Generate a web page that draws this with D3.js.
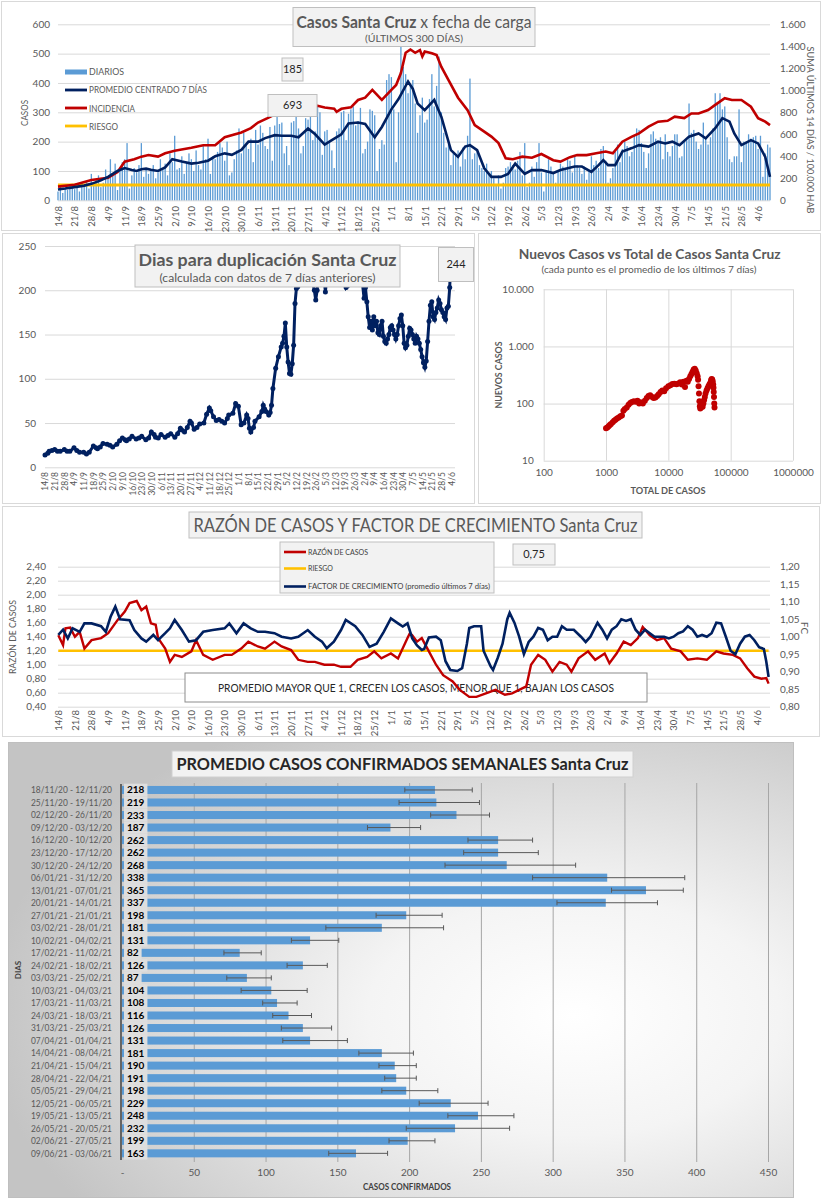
<!DOCTYPE html>
<html><head><meta charset="utf-8">
<script src="https://cdnjs.cloudflare.com/ajax/libs/d3/7.8.5/d3.min.js"></script>
<style>body{margin:0;background:#fff;}svg{display:block;}</style>
</head><body>
<svg id="chart" width="823" height="1200"></svg>
<script>
// ---------------- DATA ----------------
// Panel 1: daily cases (14/8/2020 .. 9/6/2021, 300 days)
const dailyCases = [
30,45,25,40,35,50,42,38,55,30,
60,48,65,40,90,55,70,85,45,60,
105,75,140,90,125,35,100,130,140,195,
40,85,110,95,120,195,80,110,90,100,
120,75,95,140,110,125,85,160,130,220,
105,110,150,90,130,160,140,100,170,120,
105,185,140,210,90,150,140,165,195,180,
135,200,85,95,140,170,245,160,230,190,
175,210,130,240,190,255,230,185,175,250,
135,255,285,260,265,160,185,120,265,270,
285,245,160,185,280,275,290,205,235,325,
300,155,235,240,195,170,110,235,245,300,
305,205,295,310,320,255,270,315,160,175,
200,310,305,290,100,175,205,190,410,430,
420,310,130,300,530,455,430,365,395,410,
330,230,290,350,265,275,345,430,320,390,
490,300,230,180,190,120,160,155,170,115,
180,140,220,415,140,160,175,120,110,100,
125,90,100,75,50,85,40,60,110,115,
130,120,105,135,165,85,195,45,60,115,
80,130,195,95,30,100,140,115,90,60,
100,125,115,105,140,135,95,150,120,110,
90,115,70,100,150,120,135,110,175,185,
135,60,75,110,165,190,130,175,200,185,
150,165,220,245,240,195,165,110,160,225,
235,210,200,215,140,225,165,150,185,225,
225,145,150,200,205,330,230,240,200,175,
190,265,210,190,215,245,365,330,365,310,
320,215,140,130,150,150,310,130,200,200,
225,210,215,220,175,220,80,160,190,180];
const avg7Days = [["14/8",37],["17/8",40],["21/8",45],["25/8",50],["28/8",56],["1/9",68],["4/9",80],["8/9",100],["11/9",110],["14/9",103],["16/9",100],["18/9",106],["20/9",108],["22/9",104],["25/9",100],["28/9",112],["1/10",140],["5/10",132],["9/10",125],["12/10",128],["16/10",135],["19/10",150],["23/10",160],["26/10",155],["30/10",172],["2/11",200],["6/11",200],["9/11",212],["13/11",222],["16/11",220],["20/11",220],["23/11",215],["27/11",245],["30/11",225],["4/12",190],["7/12",205],["11/12",225],["14/12",262],["18/12",265],["21/12",260],["25/12",215],["28/12",250],["1/1",310],["4/1",345],["8/1",405],["10/1",380],["12/1",330],["15/1",307],["19/1",342],["22/1",284],["26/1",171],["29/1",148],["1/2",183],["3/2",188],["6/2",171],["9/2",109],["12/2",80],["16/2",80],["19/2",90],["22/2",125],["26/2",90],["1/3",103],["5/3",103],["10/3",93],["13/3",103],["19/3",115],["22/3",115],["26/3",97],["29/3",120],["31/3",137],["2/4",120],["5/4",120],["8/4",166],["12/4",178],["15/4",188],["19/4",183],["23/4",200],["26/4",194],["29/4",200],["2/5",188],["6/5",217],["10/5",228],["13/5",211],["17/5",246],["20/5",280],["23/5",268],["25/5",228],["28/5",188],["1/6",205],["4/6",194],["7/6",148],["9/6",80]];
const incidence14d = [["14/8",124],["21/8",141],["28/8",184],["4/9",205],["8/9",258],["11/9",351],["15/9",374],["18/9",397],["21/9",412],["25/9",397],["28/9",427],["2/10",450],["9/10",477],["14/10",501],["19/10",501],["23/10",573],["30/10",616],["3/11",656],["6/11",707],["10/11",747],["14/11",790],["18/11",820],["22/11",840],["26/11",850],["1/12",860],["4/12",843],["8/12",832],["9/12",805],["11/12",832],["15/12",845],["18/12",912],["21/12",933],["24/12",1003],["28/12",912],["1/1",1003],["3/1",1048],["5/1",1157],["7/1",1341],["9/1",1371],["11/1",1341],["13/1",1365],["14/1",1307],["15/1",1352],["18/1",1336],["20/1",1320],["22/1",1213],["25/1",1093],["29/1",933],["2/2",819],["5/2",683],["9/2",624],["12/2",579],["15/2",520],["18/2",381],["21/2",373],["25/2",397],["1/3",387],["5/3",421],["10/3",365],["13/3",352],["17/3",392],["20/3",411],["24/3",411],["28/3",427],["1/4",443],["4/4",427],["8/4",533],["12/4",579],["15/4",608],["19/4",669],["23/4",715],["27/4",723],["30/4",760],["4/5",747],["7/5",789],["10/5",789],["14/5",821],["17/5",867],["21/5",928],["24/5",912],["28/5",912],["1/6",851],["4/6",747],["7/6",715],["9/6",683]];
const riskIncidence = 140;

// Panel 2: doubling days
const doublingDays = [["14/8",14],["16/8",16],["17/8",18],["19/8",19],["21/8",20],["23/8",18],["25/8",18],["28/8",20],["30/8",18],["1/9",18],["4/9",22],["6/9",19],["8/9",17],["11/9",17],["13/9",15],["15/9",17],["18/9",24],["20/9",22],["21/9",21],["23/9",23],["25/9",27],["28/9",26],["30/9",25],["2/10",23],["5/10",26],["7/10",30],["9/10",33],["11/10",31],["12/10",30],["14/10",32],["16/10",35],["19/10",32],["21/10",33],["23/10",35],["26/10",31],["28/10",33],["30/10",40],["1/11",37],["2/11",34],["4/11",33],["6/11",37],["9/11",34],["11/11",36],["13/11",38],["16/11",34],["18/11",38],["20/11",44],["21/11",42],["23/11",40],["25/11",45],["27/11",52],["28/11",50],["30/11",43],["2/12",45],["4/12",49],["7/12",50],["9/12",60],["11/12",67],["12/12",64],["14/12",57],["16/12",53],["18/12",54],["20/12",52],["22/12",50],["24/12",55],["25/12",59],["28/12",61],["30/12",72],["1/1",69],["3/1",48],["5/1",50],["7/1",59],["8/1",55],["9/1",44],["10/1",40],["12/1",45],["13/1",52],["16/1",57],["18/1",63],["19/1",70],["20/1",66],["21/1",63],["23/1",59],["24/1",62],["25/1",70],["26/1",89],["28/1",112],["30/1",125],["1/2",136],["2/2",140],["3/2",148],["4/2",163],["5/2",136],["6/2",119],["7/2",106],["8/2",105],["9/2",117],["10/2",138],["11/2",185],["12/2",202],["13/2",204],["15/2",230],["18/2",260],["21/2",240],["23/2",215],["25/2",200],["26/2",189],["27/2",200],["28/2",230],["2/3",260],["4/3",215],["5/3",198],["6/3",215],["9/3",250],["13/3",270],["17/3",230],["20/3",203],["21/3",205],["24/3",240],["28/3",260],["31/3",220],["2/4",191],["3/4",203],["4/4",187],["5/4",170],["6/4",158],["7/4",165],["8/4",155],["9/4",170],["10/4",160],["11/4",165],["12/4",152],["13/4",150],["14/4",160],["15/4",165],["16/4",148],["17/4",142],["18/4",140],["19/4",145],["20/4",150],["21/4",158],["22/4",160],["23/4",155],["24/4",150],["25/4",145],["26/4",150],["27/4",160],["28/4",168],["29/4",172],["30/4",160],["1/5",140],["2/5",135],["3/5",138],["4/5",148],["5/5",157],["6/5",155],["7/5",150],["8/5",145],["9/5",140],["10/5",148],["11/5",145],["12/5",140],["13/5",133],["14/5",125],["15/5",118],["16/5",113],["17/5",120],["18/5",142],["19/5",165],["20/5",183],["21/5",187],["22/5",170],["23/5",167],["24/5",175],["25/5",180],["26/5",189],["27/5",185],["28/5",178],["29/5",175],["30/5",170],["31/5",167],["1/6",180],["2/6",182],["3/6",203],["4/6",244]];

// Panel 3: new cases (7-day avg) vs total cases
const scatterTotal = [1000,1050,1100,1150,1200,1280,1350,1420,1500,1600,1700,1800,1900,2000,2150,2300,2450,2600,2800,3000,3200,3400,3600,3900,4200,4500,4800,5100,5400,5800,6200,6600,7000,7500,8000,8600,9200,10000,10800,11600,12500,13500,14500,15500,16500,17500,18500,19500,20500,21500,22500,23500,24500,25500,26500,27500,28500,29500,30000,30500,31000,31500,32000,32500,33500,34500,35500,36500,37500,38500,39500,41000,42500,44000,45500,47000,48500,49500,50500,51500,52500,53000,53500,54000,54500,55000];
const scatterNew =   [37,38,40,42,44,47,50,52,55,57,60,62,75,80,85,95,102,107,110,108,112,100,105,100,112,125,135,140,132,125,128,135,145,160,170,165,185,200,210,220,222,218,225,235,215,240,195,250,240,270,300,330,360,395,405,380,340,300,260,200,150,110,90,82,85,95,88,100,115,130,150,170,185,200,215,230,255,270,265,245,215,190,160,130,100,85];

// Panel 4: case ratio and growth factor
const caseRatio = [["14/8",1.42],["16/8",1.28],["17/8",1.52],["19/8",1.53],["21/8",1.40],["23/8",1.47],["25/8",1.23],["28/8",1.35],["1/9",1.38],["4/9",1.45],["8/9",1.64],["11/9",1.76],["13/9",1.88],["16/9",1.91],["18/9",1.78],["20/9",1.83],["22/9",1.59],["24/9",1.57],["25/9",1.38],["28/9",1.23],["30/9",1.04],["2/10",1.14],["5/10",1.11],["9/10",1.19],["11/10",1.35],["14/10",1.14],["18/10",1.07],["23/10",1.14],["26/10",1.14],["30/10",1.23],["2/11",1.33],["6/11",1.26],["9/11",1.23],["13/11",1.33],["16/11",1.26],["20/11",1.21],["23/11",1.07],["27/11",1.04],["30/11",1.04],["4/12",1.0],["8/12",1.0],["11/12",0.97],["15/12",0.97],["18/12",1.07],["22/12",1.11],["25/12",1.19],["28/12",1.09],["1/1",1.16],["4/1",1.09],["8/1",1.38],["9/1",1.45],["10/1",1.42],["12/1",1.33],["14/1",1.38],["17/1",1.19],["20/1",1.0],["23/1",0.85],["27/1",0.76],["30/1",0.64],["3/2",0.54],["6/2",0.54],["10/2",0.59],["14/2",0.64],["18/2",0.57],["21/2",0.59],["24/2",0.64],["27/2",0.69],["1/3",1.0],["4/3",1.14],["7/3",1.07],["10/3",0.9],["13/3",1.04],["16/3",1.0],["18/3",0.9],["21/3",1.09],["25/3",1.19],["28/3",1.07],["1/4",1.16],["3/4",1.02],["6/4",1.16],["9/4",1.33],["12/4",1.28],["15/4",1.38],["17/4",1.54],["20/4",1.42],["23/4",1.35],["26/4",1.38],["29/4",1.23],["3/5",1.19],["6/5",1.07],["10/5",1.09],["14/5",1.07],["18/5",1.19],["21/5",1.16],["25/5",1.14],["28/5",1.09],["31/5",0.95],["3/6",0.83],["6/6",0.80],["8/6",0.81],["9/6",0.73]];
const growthFactor = [["14/8",1.005],["16/8",1.02],["18/8",0.995],["20/8",1.024],["23/8",1.014],["25/8",1.038],["28/8",1.038],["1/9",1.03],["3/9",1.014],["5/9",1.057],["7/9",1.086],["9/9",1.05],["13/9",1.047],["15/9",1.019],["18/9",0.995],["20/9",0.986],["23/9",1.005],["25/9",0.99],["28/9",1.01],["30/9",1.024],["2/10",1.048],["5/10",1.019],["8/10",0.986],["11/10",0.99],["14/10",1.014],["18/10",1.019],["23/10",1.024],["25/10",1.038],["28/10",1.01],["31/10",1.038],["3/11",1.024],["6/11",1.014],["9/11",1.014],["13/11",1.01],["16/11",1.0],["20/11",0.995],["23/11",1.0],["27/11",1.019],["30/11",1.0],["3/12",0.986],["5/12",0.967],["8/12",0.986],["11/12",1.019],["13/12",1.048],["17/12",1.03],["20/12",1.005],["23/12",0.971],["26/12",0.98],["29/12",1.014],["1/1",1.052],["4/1",1.038],["6/1",1.029],["8/1",1.038],["10/1",0.995],["12/1",0.975],["14/1",0.962],["15/1",0.965],["17/1",0.998],["20/1",1.0],["22/1",0.99],["24/1",0.93],["26/1",0.905],["29/1",0.902],["31/1",0.91],["2/2",0.98],["3/2",1.025],["5/2",1.03],["8/2",1.03],["9/2",0.96],["11/2",0.93],["12/2",0.915],["13/2",0.905],["15/2",0.94],["17/2",0.98],["19/2",1.05],["20/2",1.068],["22/2",1.04],["24/2",1.0],["26/2",0.95],["28/2",0.985],["2/3",1.0],["4/3",1.025],["6/3",1.02],["8/3",0.99],["10/3",1.0],["12/3",1.0],["14/3",1.03],["16/3",1.02],["19/3",1.02],["22/3",1.0],["24/3",0.985],["26/3",1.0],["29/3",1.04],["31/3",1.02],["2/4",0.995],["4/4",1.02],["6/4",1.03],["8/4",1.05],["10/4",1.045],["12/4",1.05],["14/4",1.02],["16/4",1.005],["18/4",1.02],["20/4",1.01],["22/4",1.0],["24/4",1.0],["26/4",1.0],["28/4",0.995],["30/4",1.0],["2/5",1.01],["4/5",1.015],["6/5",1.03],["8/5",1.02],["10/5",1.0],["12/5",1.005],["14/5",1.0],["16/5",1.01],["18/5",1.04],["20/5",1.038],["22/5",1.0],["24/5",0.96],["26/5",0.95],["28/5",0.98],["30/5",1.0],["1/6",1.005],["3/6",0.99],["5/6",0.97],["7/6",0.965],["8/6",0.93],["9/6",0.885]];
const riskRatio = 1.2;

// Panel 5: weekly averages
const weekRanges = ["18/11/20 - 12/11/20","25/11/20 - 19/11/20","02/12/20 - 26/11/20","09/12/20 - 03/12/20","16/12/20 - 10/12/20","23/12/20 - 17/12/20","30/12/20 - 24/12/20","06/01/21 - 31/12/20","13/01/21 - 07/01/21","20/01/21 - 14/01/21","27/01/21 - 21/01/21","03/02/21 - 28/01/21","10/02/21 - 04/02/21","17/02/21 - 11/02/21","24/02/21 - 18/02/21","03/03/21 - 25/02/21","10/03/21 - 04/03/21","17/03/21 - 11/03/21","24/03/21 - 18/03/21","31/03/21 - 25/03/21","07/04/21 - 01/04/21","14/04/21 - 08/04/21","21/04/21 - 15/04/21","28/04/21 - 22/04/21","05/05/21 - 29/04/21","12/05/21 - 06/05/21","19/05/21 - 13/05/21","26/05/21 - 20/05/21","02/06/21 - 27/05/21","09/06/21 - 03/06/21"];
const weekAvg = [218,219,233,187,262,262,268,338,365,337,198,181,131,82,126,87,104,108,116,126,131,181,190,191,198,229,248,232,199,163];
const errLow  = [197,193,215,171,241,238,225,286,341,303,177,142,118,71,115,73,83,98,105,111,112,165,179,183,181,207,227,198,186,144];
const errHigh = [244,249,256,208,286,290,316,392,391,373,223,224,151,97,143,104,129,122,132,146,157,203,205,205,220,255,273,270,218,185];

// ---------------- HELPERS ----------------
const FONT = 'Lato, Carlito, "Liberation Sans", sans-serif';
const GRAY = '#595959', GRID = '#d9d9d9';
const NAVY = '#002060', RED = '#c00000', ORANGE = '#ffc000', BLUE = '#5b9bd5';
const loc = d3.formatLocale({decimal:",", thousands:".", grouping:[3], currency:["$",""]});
const P = s => { const [d,m] = s.split('/').map(Number); return new Date(m >= 8 ? 2020 : 2021, m-1, d); };
const START = P('14/8'), END = P('9/6');
const fmtDM = d => d.getDate() + '/' + (d.getMonth()+1);
const svg = d3.select('#chart');

function T(g,x,y,s,o={}){
  const t = g.append('text').attr('x',x).attr('y',y).text(s)
    .style('font-family',FONT).style('font-size',(o.size||10)+'px')
    .attr('fill',o.fill||GRAY).attr('text-anchor',o.anchor||'start');
  if(o.weight) t.style('font-weight',o.weight);
  if(o.rot!=null) t.attr('transform',`rotate(${o.rot},${x},${y})`);
  if(o.len) t.attr('textLength',o.len).attr('lengthAdjust','spacingAndGlyphs');
  return t;
}
function R(g,x,y,w,h,fill,stroke,sw){
  return g.append('rect').attr('x',x).attr('y',y).attr('width',w).attr('height',h)
    .attr('fill',fill||'none').attr('stroke',stroke||'none').attr('stroke-width',sw||1);
}
function styleAxis(ax,size,gridColor){
  ax.select('.domain').remove();
  ax.selectAll('line').attr('stroke',gridColor||GRID);
  ax.selectAll('text').attr('fill',GRAY).style('font-size',size+'px').style('font-family',FONT);
  return ax;
}
function dateAxis(g,x,y0,size){
  const ax = g.append('g').attr('transform',`translate(0,${y0})`)
    .call(d3.axisBottom(x).tickValues(d3.timeDay.range(START, d3.timeDay.offset(END,1), 7)).tickFormat(fmtDM).tickSize(0).tickPadding(0));
  ax.select('.domain').remove();
  ax.selectAll('text').attr('transform','rotate(-90)').attr('text-anchor','end')
    .attr('x',-2).attr('y',0).attr('dy','0.35em').attr('fill',GRAY)
    .style('font-size',size+'px').style('font-family',FONT);
}
function labelBox(g,x,y,w,h,s,size){
  R(g,x,y,w,h,'#f2f2f2','#bfbfbf');
  T(g,x+w/2,y+h/2+size*0.36,s,{size:size,anchor:'middle',fill:'#262626'});
}

// ---------------- PANEL 1 ----------------
{
  const g = svg.append('g');
  R(g,1.5,1.5,819,229,'#fff','#d9d9d9');
  const x = d3.scaleTime([START,END],[58,770]);
  const y = d3.scaleLinear([0,600],[200.3,24.3]);
  const yr = d3.scaleLinear([0,1600],[200.3,24.3]);
  styleAxis(g.append('g').attr('transform','translate(58,0)')
    .call(d3.axisLeft(y).tickValues(d3.range(0,601,100)).tickSize(-712).tickPadding(8)),10);
  styleAxis(g.append('g').attr('transform','translate(770,0)')
    .call(d3.axisRight(yr).tickValues(d3.range(0,1601,200)).tickFormat(loc.format(',')).tickSize(0).tickPadding(10)),10);
  dateAxis(g,x,204,9.5);
  g.append('g').selectAll('rect').data(dailyCases).join('rect')
    .attr('x',(d,i)=>x(d3.timeDay.offset(START,i))-0.65).attr('width',1.3)
    .attr('y',d=>y(d)).attr('height',d=>y(0)-y(d)).attr('fill',BLUE);
  g.append('line').attr('x1',x(START)).attr('x2',x(END)).attr('y1',yr(riskIncidence)).attr('y2',yr(riskIncidence))
    .attr('stroke',ORANGE).attr('stroke-width',3);
  g.append('path').datum(incidence14d).attr('fill','none').attr('stroke',RED).attr('stroke-width',2.6)
    .attr('d',d3.line().x(d=>x(P(d[0]))).y(d=>yr(d[1])));
  g.append('path').datum(avg7Days).attr('fill','none').attr('stroke',NAVY).attr('stroke-width',2.6)
    .attr('d',d3.line().x(d=>x(P(d[0]))).y(d=>y(d[1])));
  T(g,28,113,'CASOS',{size:9,anchor:'middle',rot:-90,len:26});
  T(g,806.5,130,'SUMA  ÚLTIMOS 14 DÍAS / 100.000 HAB',{size:9.5,anchor:'middle',rot:90,len:167});
  // legend
  R(g,65,69.5,22,5,BLUE);
  [[NAVY,90],[RED,108],[ORANGE,126]].forEach(([c,yy])=>g.append('line').attr('x1',65).attr('x2',87).attr('y1',yy).attr('y2',yy).attr('stroke',c).attr('stroke-width',2.8));
  T(g,89,75,'DIARIOS',{size:8.5,len:35});
  T(g,89,93,'PROMEDIO CENTRADO 7 DÍAS',{size:8.5,len:118});
  T(g,89,111.5,'INCIDENCIA',{size:8.5,len:46});
  T(g,89,129.5,'RIESGO',{size:8.5,len:29});
  // title
  R(g,293,7.5,242,39,'#f2f2f2','#bfbfbf');
  const tt = T(g,414,28,'',{size:17,anchor:'middle',len:235});
  tt.append('tspan').text('Casos Santa Cruz').style('font-weight','bold');
  tt.append('tspan').text(' x fecha de carga');
  T(g,414,42,'(ÚLTIMOS 300 DÍAS)',{size:10,anchor:'middle',len:98});
  labelBox(g,282,58,21,23,'185',11);
  labelBox(g,268,94.5,49,22,'693',11);
}

// ---------------- PANEL 2 ----------------
{
  const g = svg.append('g');
  R(g,2.5,233.5,472,270,'#fff','#d9d9d9');
  const x = d3.scaleTime([START,END],[45,458]);
  const y = d3.scaleLinear([0,250],[467.3,246]);
  styleAxis(g.append('g').attr('transform','translate(45,0)')
    .call(d3.axisLeft(y).tickValues(d3.range(0,251,50)).tickSize(-410).tickPadding(9)),10);
  dateAxis(g,x,470,8.5);
  g.append('clipPath').attr('id','clip2').append('rect').attr('x',40).attr('y',246).attr('width',430).attr('height',225);
  const pg = g.append('g').attr('clip-path','url(#clip2)');
  pg.append('path').datum(doublingDays).attr('fill','none').attr('stroke',NAVY).attr('stroke-width',3)
    .attr('d',d3.line().x(d=>x(P(d[0]))).y(d=>y(d[1])));
  pg.selectAll('circle').data(doublingDays).join('circle')
    .attr('cx',d=>x(P(d[0]))).attr('cy',d=>y(d[1])).attr('r',2.5).attr('fill',NAVY);
  R(g,135,245,265,42,'#f2f2f2','#bfbfbf');
  T(g,267.5,266,'Dias para duplicación Santa Cruz',{size:17,weight:'bold',anchor:'middle',len:258});
  T(g,267.5,281.5,'(calculada con datos de 7 días anteriores)',{size:12,anchor:'middle',len:216});
  labelBox(g,438.5,247.5,35,34,'244',11);
}

// ---------------- PANEL 3 ----------------
{
  const g = svg.append('g');
  R(g,478.5,233.5,342,270,'#fff','#d9d9d9');
  const x = d3.scaleLog([100,1e6],[543.7,793]);
  const y = d3.scaleLog([10,1e4],[460.7,289.3]);
  styleAxis(g.append('g').attr('transform','translate(0,460.7)')
    .call(d3.axisBottom(x).tickValues([100,1e3,1e4,1e5,1e6]).tickFormat(d3.format('d')).tickSize(-171.4).tickPadding(8)),10);
  styleAxis(g.append('g').attr('transform','translate(543.7,0)')
    .call(d3.axisLeft(y).tickValues([10,100,1000,10000]).tickFormat(loc.format(',')).tickSize(-249.3).tickPadding(10)),10);
  g.append('g').selectAll('circle').data(scatterTotal).join('circle')
    .attr('cx',d=>x(d)).attr('cy',(d,i)=>y(scatterNew[i])).attr('r',3).attr('fill',RED);
  T(g,649.7,259,'Nuevos Casos vs Total de Casos Santa Cruz',{size:14,weight:'bold',anchor:'middle',len:262});
  T(g,649,273,'(cada punto es el promedio de los últimos 7 días)',{size:10,anchor:'middle',len:215});
  T(g,668,494,'TOTAL DE CASOS',{size:10,weight:'bold',anchor:'middle',len:75});
  T(g,502,375,'NUEVOS CASOS',{size:10,weight:'bold',anchor:'middle',rot:-90,len:67});
}

// ---------------- PANEL 4 ----------------
{
  const g = svg.append('g');
  R(g,2.5,506.5,817,230,'#fff','#d9d9d9');
  const x = d3.scaleTime([START,END],[58.3,768.6]);
  const y = d3.scaleLinear([0.4,2.4],[706.7,566.7]);
  const yr = d3.scaleLinear([0.8,1.2],[706.7,566.7]);
  styleAxis(g.append('g').attr('transform','translate(58,0)')
    .call(d3.axisLeft(y).tickValues(d3.range(0,11).map(i=>0.4+i*0.2)).tickFormat(loc.format('.2f')).tickSize(-712).tickPadding(12)),10);
  styleAxis(g.append('g').attr('transform','translate(770,0)')
    .call(d3.axisRight(yr).tickValues(d3.range(0,9).map(i=>0.8+i*0.05)).tickFormat(loc.format('.2f')).tickSize(0).tickPadding(10)),10);
  dateAxis(g,x,708,9.5);
  T(g,16,637,'RAZÓN DE CASOS',{size:10,anchor:'middle',rot:-90,len:74});
  T(g,800.5,628,'FC',{size:10,anchor:'middle',rot:90});
  R(g,189,512,453,26,'#f2f2f2','#bfbfbf');
  T(g,415.5,532,'RAZÓN DE CASOS Y FACTOR DE CRECIMIENTO Santa Cruz',{size:20,anchor:'middle',len:444});
  R(g,280,542,214,51,'#f2f2f2','#bfbfbf');
  [[RED,552],[ORANGE,568.5],[NAVY,586.5]].forEach(([c,yy])=>g.append('line').attr('x1',284).attr('x2',306).attr('y1',yy).attr('y2',yy).attr('stroke',c).attr('stroke-width',2.6));
  T(g,308,554.5,'RAZÓN DE CASOS',{size:7.5,fill:'#404040',len:60});
  T(g,308,571,'RIESGO',{size:7.5,fill:'#404040',len:25});
  T(g,308,589,'FACTOR DE CRECIMIENTO (promedio últimos 7 días)',{size:7.5,fill:'#404040',len:182});
  labelBox(g,513,544,42,21,'0,75',11);
  R(g,185,673,462,29,'#fff','#8c8c8c');
  T(g,416,692,'PROMEDIO MAYOR QUE 1, CRECEN LOS CASOS, MENOR QUE 1, BAJAN LOS CASOS',{size:12,anchor:'middle',fill:'#262626',len:396});
  g.append('line').attr('x1',x(START)).attr('x2',x(END)).attr('y1',y(riskRatio)).attr('y2',y(riskRatio))
    .attr('stroke',ORANGE).attr('stroke-width',2.6);
  g.append('path').datum(caseRatio).attr('fill','none').attr('stroke',RED).attr('stroke-width',2.4)
    .attr('d',d3.line().x(d=>x(P(d[0]))).y(d=>y(d[1])));
  g.append('path').datum(growthFactor).attr('fill','none').attr('stroke',NAVY).attr('stroke-width',2.6)
    .attr('d',d3.line().x(d=>x(P(d[0]))).y(d=>yr(d[1])));
}

// ---------------- PANEL 5 ----------------
{
  const g = svg.append('g');
  const defs = svg.append('defs');
  const rg = defs.append('radialGradient').attr('id','bg5').attr('cx','0.72').attr('cy','0.6').attr('r','0.75');
  rg.append('stop').attr('offset','0').attr('stop-color','#ffffff');
  rg.append('stop').attr('offset','0.35').attr('stop-color','#f4f4f4');
  rg.append('stop').attr('offset','1').attr('stop-color','#c4c4c4');
  R(g,8.5,742.5,785,455,'url(#bg5)','#bfbfbf');
  const x = d3.scaleLinear([0,450],[122,768]);
  const y = d3.scaleBand(weekRanges,[783.7,1159.6]).paddingInner(0.36).paddingOuter(0.18);
  const step = y.step();
  const ax = g.append('g').attr('transform','translate(0,1162)')
    .call(d3.axisBottom(x).tickValues(d3.range(0,451,50)).tickFormat(d=>d===0?'-':d).tickSize(-379).tickPadding(7));
  styleAxis(ax,10,'#a6a6a6');
  ax.selectAll('.tick line').filter(d=>d===0).remove();
  g.append('line').attr('x1',121).attr('x2',121).attr('y1',784).attr('y2',1160).attr('stroke','#404040').attr('stroke-width',1.5);
  // category labels
  g.append('g').selectAll('text').data(weekRanges).join('text')
    .attr('x',112).attr('y',d=>y(d)+y.bandwidth()/2+3.4).attr('text-anchor','end')
    .attr('fill',GRAY).style('font-family',FONT).style('font-size','9.5px')
    .attr('textLength',81).attr('lengthAdjust','spacingAndGlyphs').text(d=>d);
  // bars
  g.append('g').selectAll('rect').data(weekAvg).join('rect')
    .attr('x',x(0)).attr('y',(d,i)=>y(weekRanges[i])).attr('height',y.bandwidth())
    .attr('width',d=>x(d)-x(0)).attr('fill',BLUE);
  // error bars
  const eb = g.append('g').attr('stroke','#595959').attr('stroke-width',1);
  weekAvg.forEach((v,i)=>{
    const cy = y(weekRanges[i])+y.bandwidth()/2;
    eb.append('line').attr('x1',x(errLow[i])).attr('x2',x(errHigh[i])).attr('y1',cy).attr('y2',cy);
    [errLow[i],errHigh[i]].forEach(e=>eb.append('line').attr('x1',x(e)).attr('x2',x(e)).attr('y1',cy-2.5).attr('y2',cy+2.5));
  });
  // data labels
  const lg = g.append('g');
  weekAvg.forEach((v,i)=>{
    const cy = y(weekRanges[i])+y.bandwidth()/2;
    const bgR = lg.append('rect').attr('x',124).attr('y',cy-step/2).attr('height',step).attr('fill','#dedede');
    const t = T(lg,127,cy+3.5,String(v),{size:10,weight:'bold',fill:'#000'});
    bgR.attr('width',t.node().getComputedTextLength()+6);
  });
  R(g,172,751,461,26,'#f2f2f2','#d0d0d0');
  T(g,402.5,770,'PROMEDIO CASOS CONFIRMADOS SEMANALES Santa Cruz',{size:17,weight:'bold',anchor:'middle',fill:'#262626',len:452});
  T(g,407,1190,'CASOS CONFIRMADOS',{size:8.5,weight:'bold',anchor:'middle',fill:'#404040',len:88});
  T(g,21,970,'DIAS',{size:8,weight:'bold',anchor:'middle',rot:-90,fill:'#404040'});
}
</script>
</body></html>
